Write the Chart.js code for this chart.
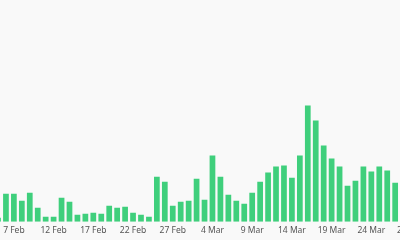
<!DOCTYPE html>
<html>
<head>
<meta charset="utf-8">
<script src="https://cdn.jsdelivr.net/npm/chart.js"></script>
<style>
    html, body { margin: 0; padding: 0; background: #f9f9f9; overflow: hidden; }
    #caixa { position: absolute; left: -6px; top: 0; width: 429px; height: 240px; }
</style>
</head>
<body>
<div id="caixa"><canvas id="grafico"></canvas></div>
<script>
// dias (5 Feb .. 30 Mar), o gráfico original aparece cortado nas bordas
const dias = [
    '5 Feb', '6 Feb', '7 Feb', '8 Feb', '9 Feb', '10 Feb', '11 Feb', '12 Feb',
    '13 Feb', '14 Feb', '15 Feb', '16 Feb', '17 Feb', '18 Feb', '19 Feb', '20 Feb',
    '21 Feb', '22 Feb', '23 Feb', '24 Feb', '25 Feb', '26 Feb', '27 Feb', '28 Feb',
    '1 Mar', '2 Mar', '3 Mar', '4 Mar', '5 Mar', '6 Mar', '7 Mar', '8 Mar',
    '9 Mar', '10 Mar', '11 Mar', '12 Mar', '13 Mar', '14 Mar', '15 Mar', '16 Mar',
    '17 Mar', '18 Mar', '19 Mar', '20 Mar', '21 Mar', '22 Mar', '23 Mar', '24 Mar',
    '25 Mar', '26 Mar', '27 Mar', '28 Mar', '29 Mar', '30 Mar',
];

const valores = [
    4, 28, 28, 21, 29, 14, 5, 5,
    24, 20, 7, 8, 9, 8, 16, 14,
    15, 9, 7, 5, 45, 40, 16, 20,
    21, 43, 22, 66, 45, 27, 21, 18,
    29, 40, 49, 55, 56, 44, 66, 116,
    101, 76, 63, 55, 36, 41, 55, 50,
    55, 51, 39, 45, 38, 42,
];

// só mostra um rótulo a cada 5 dias, começando em 7 Feb
const passoRotulo = 5;
const primeiroRotulo = 2;

const grafico1 = document.getElementById('grafico');

const dados = {
    labels: dias,
    datasets: [{
        label: 'casos',
        data: valores,
        backgroundColor: '#3fcf7c',
        borderWidth: 0
    }]
};

const config = {
    type: 'bar',
    data: dados,
    options: {
        maintainAspectRatio: false,
        animation: false,
        layout: { padding: 0 },
        scales: {
            y: {
                display: false,
                min: 0,
                max: 221
            },
            x: {
                grid: { display: false, drawTicks: false },
                border: { display: false },
                ticks: {
                    autoSkip: false,
                    maxRotation: 0,
                    minRotation: 0,
                    padding: 4,
                    color: '#555555',
                    font: {
                        size: 8.5,
                        family: 'Noto Sans'
                    },
                    callback: function (valor, indice) {
                        if ((indice - primeiroRotulo) % passoRotulo === 0 && indice >= primeiroRotulo) {
                            return dias[indice];
                        }
                        return '';
                    }
                }
            }
        },
        plugins: {
            legend: { display: false },
            tooltip: { enabled: false }
        }
    }
};

const grafico_barras = new Chart(grafico1, config);
</script>
</body>
</html>
